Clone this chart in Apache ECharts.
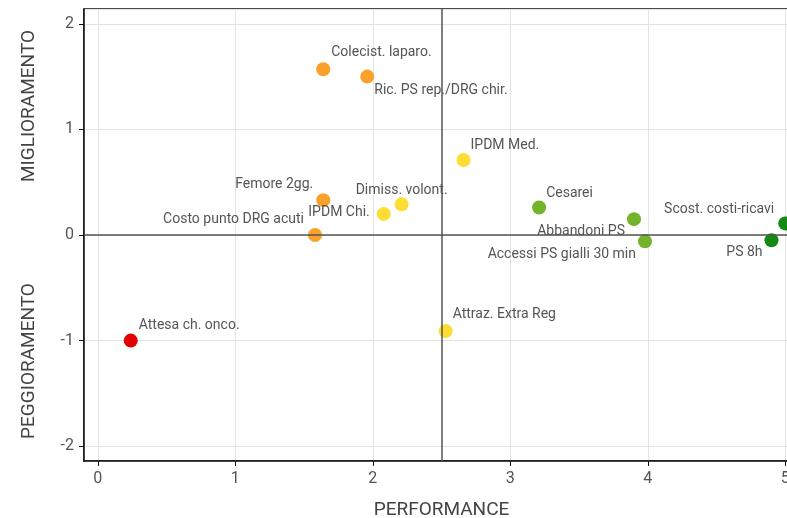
<!DOCTYPE html>
<html>
<head>
<meta charset="utf-8">
<script src="https://cdn.jsdelivr.net/npm/echarts@6/dist/echarts.min.js"></script>
<style>html,body{margin:0;padding:0;background:#fff}#c{width:787px;height:518px}</style>
</head>
<body>
<div id="c"></div>
<script>
// ---- data ----
var names = ['Colecist. laparo.','Ric. PS rep./DRG chir.','IPDM Med.','Femore 2gg.','Dimiss. volont.','IPDM Chi.','Costo punto DRG acuti','Cesarei','Abbandoni PS','Accessi PS gialli 30 min','Scost. costi-ricavi','PS 8h','Attesa ch. onco.','Attraz. Extra Reg'];
var performance = [1.64, 1.96, 2.66, 1.64, 2.21, 2.08, 1.58, 3.21, 3.90, 3.98, 5.00, 4.90, 0.24, 2.53];
var trend = [1.57, 1.50, 0.71, 0.33, 0.29, 0.20, 0.00, 0.26, 0.15, -0.06, 0.11, -0.05, -1.00, -0.91];
var groups = ['orange','orange','yellow','orange','yellow','yellow','orange','green','green','green','dkgreen','dkgreen','red','yellow'];
var xTicks = [0, 1, 2, 3, 4, 5];
var yTicks = [-2, -1, 0, 1, 2];
var xCross = 2.5, yCross = 0;

// ---- styles ----
var palette = {orange:'#F9A12B', yellow:'#FDDD33', green:'#73B42A', dkgreen:'#148A14', red:'#E20000'};
// label offsets from point centre [dx, dy, align]
var labelPlace = [
  [8,-17,'left'], [7,14,'left'], [7,-15,'left'], [-10,-16,'right'], [0,-14,'center'],
  [-14,-1,'right'], [-11,-16,'right'], [7,-14,'left'], [-9,12,'right'], [-9,13,'right'],
  [-11,-14,'right'], [-9,12,'right'], [8,-15,'left'], [7,-17,'left']
];
var R = 7;
var data = names.map(function(n, i){
  var p = labelPlace[i];
  return {
    name: n,
    value: [performance[i], trend[i]],
    itemStyle: {color: palette[groups[i]], opacity: 1},
    label: {show: true, formatter: n, position: [R + p[0], R + p[1]], align: p[2], verticalAlign: 'middle'}
  };
});

var font = 'Roboto, "DejaVu Sans", sans-serif';
var chart = echarts.init(document.getElementById('c'), null, {renderer: 'canvas'});
chart.setOption({
  animation: false,
  backgroundColor: '#fff',
  grid: {left: 84, top: 9, right: -12, bottom: 57, outerBoundsMode: 'none', containLabel: false,
         show: true, borderColor: '#111', borderWidth: 1.5, backgroundColor: 'transparent'},
  xAxis: {
    type: 'value', min: -0.1, max: 5.1, splitNumber: 5,
    name: 'PERFORMANCE', nameLocation: 'middle', nameGap: 40,
    nameTextStyle: {fontFamily: font, fontSize: 19, color: '#444'},
    axisLine: {show: true, onZero: false, lineStyle: {color: '#111', width: 1.5}},
    axisTick: {show: true, length: 5, lineStyle: {color: '#111'}},
    axisLabel: {fontFamily: font, fontSize: 16, color: '#555', margin: 10, showMinLabel: false, showMaxLabel: false,
      formatter: function(v){ return xTicks.indexOf(v) >= 0 ? String(v) : ''; }},
    splitLine: {show: true, lineStyle: {color: '#e3e3e3', width: 1}}
  },
  yAxis: {
    type: 'value', min: -2.14, max: 2.14, splitNumber: 4,
    axisLine: {show: true, onZero: false, lineStyle: {color: '#111', width: 1.5}},
    axisTick: {show: true, length: 5, lineStyle: {color: '#111'}},
    axisLabel: {fontFamily: font, fontSize: 16, color: '#555', margin: 10, showMinLabel: false, showMaxLabel: false,
      formatter: function(v){ return yTicks.indexOf(v) >= 0 ? String(v) : ''; }},
    splitLine: {show: true, lineStyle: {color: '#e3e3e3', width: 1}}
  },
  graphic: [
    {type: 'text', x: 29, y: 106, rotation: Math.PI/2, style: {text: 'MIGLIORAMENTO', fontFamily: font, fontSize: 19, fill: '#444', align: 'center', verticalAlign: 'middle'}},
    {type: 'text', x: 29, y: 361, rotation: Math.PI/2, style: {text: 'PEGGIORAMENTO', fontFamily: font, fontSize: 19, fill: '#444', align: 'center', verticalAlign: 'middle'}}
  ],
  series: [{
    type: 'scatter',
    symbolSize: 2 * R,
    data: data,
    label: {fontFamily: font, fontSize: 14, color: '#555'},
    emphasis: {disabled: true},
    markLine: {
      silent: true, symbol: 'none', animation: false,
      label: {show: false},
      lineStyle: {color: '#555', width: 1.5, type: 'solid'},
      data: [{xAxis: xCross}, {yAxis: yCross}]
    },
    z: 3
  }]
});
</script>
</body>
</html>
